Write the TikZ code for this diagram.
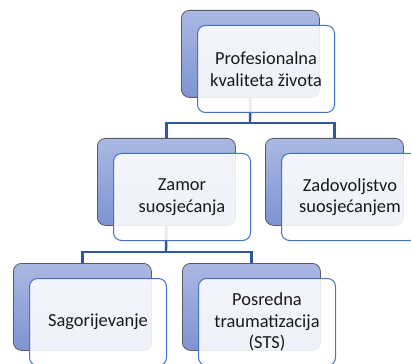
\documentclass[tikz,border=0pt]{standalone}
\usepackage{fontspec}
\setmainfont{Carlito}
\definecolor{bktop}{RGB}{170,184,226}
\definecolor{bkbot}{RGB}{126,148,210}
\definecolor{bkline}{RGB}{90,90,95}
\definecolor{frline}{RGB}{68,114,196}
\definecolor{conncol}{RGB}{47,87,160}
\tikzset{
  backbox/.style={draw=bkline, line width=0.8pt, rounded corners=8pt, top color=bktop, bottom color=bkbot,
    minimum width=138pt, minimum height=87pt, inner sep=0pt, anchor=north west},
  frontbox/.style={draw=frline, line width=1pt, rounded corners=8pt, fill=white, fill opacity=0.88, text opacity=1,
    minimum width=137pt, minimum height=87pt, inner sep=0pt, anchor=north west, align=center,
    font=\fontsize{18.4}{21.5}\selectfont, text=black!90},
  conn/.style={draw=conncol, line width=2.4pt}
}
\begin{document}
\begin{tikzpicture}[x=1pt,y=1pt]
\useasboundingbox (0,0) rectangle (411,-363);
\clip (0,0) rectangle (411,-363);
% back boxes
\node[backbox] (b1) at (181,-10) {};
\node[backbox] (b2) at (97,-138) {};
\node[backbox] (b3) at (265,-138) {};
\node[backbox] (b4) at (13,-263) {};
\node[backbox] (b5) at (182,-263) {};
% connectors
\coordinate (j1) at (250,-123);
\coordinate (j2) at (166,-252);
\draw[conn] (b1.south) -- (j1);
\draw[conn] (j1) -| (b2.north);
\draw[conn] (j1) -| (b3.north);
\draw[conn] (b2.south) -- (j2);
\draw[conn] (j2) -| (b4.north);
\draw[conn] (j2) -| (b5.north);
% front boxes
\node[frontbox] (f1) at (197,-25) {Profesionalna\\kvaliteta života};
\node[frontbox] (f2) at (113,-153) {Zamor\\suosjećanja};
\node[frontbox] (f3) at (281,-153) {Zadovoljstvo\\suosjećanjem};
\node[frontbox] (f4) at (29,-278) {Sagorijevanje};
\node[frontbox] (f5) at (198,-278) {Posredna\\traumatizacija\\(STS)};
\end{tikzpicture}
\end{document}
